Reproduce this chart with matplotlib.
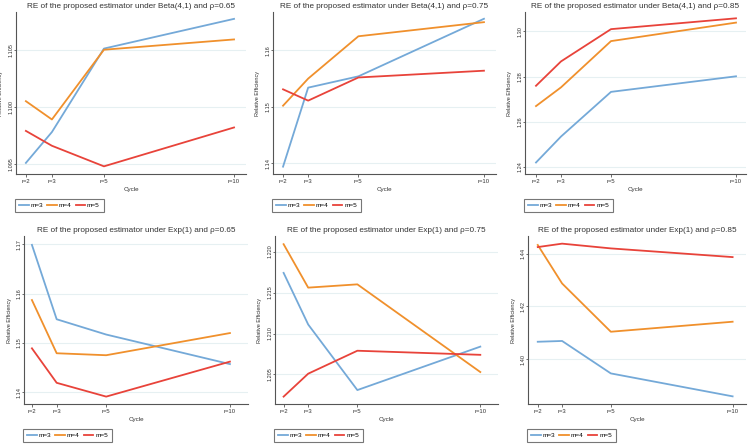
import matplotlib
matplotlib.use('Agg')
from matplotlib import pyplot as plt

plt.rcParams['font.family'] = ['Liberation Sans', 'DejaVu Sans']

r = [2, 3, 5, 10]
r_labels = ['r=2', 'r=3', 'r=5', 'r=10']
series = ['m=3', 'm=4', 'm=5']
colors = ['#74a9d8', '#f0902c', '#e8433a']

# Beta(4,1)
beta65_m3 = [1.0951, 1.0978, 1.1051, 1.1077]
beta65_m4 = [1.1005, 1.0989, 1.1050, 1.1059]
beta65_m5 = [1.0979, 1.0966, 1.0948, 1.0982]

beta75_m3 = [1.1394, 1.1534, 1.1554, 1.1656]
beta75_m4 = [1.1502, 1.1550, 1.1625, 1.1650]
beta75_m5 = [1.1531, 1.1511, 1.1552, 1.1564]

beta85_m3 = [1.2419, 1.2534, 1.2732, 1.2801]
beta85_m4 = [1.2669, 1.2752, 1.2957, 1.3039]
beta85_m5 = [1.2759, 1.2867, 1.3010, 1.3058]

# Exp(1)
exp65_m3 = [1.1699, 1.1548, 1.1517, 1.1457]
exp65_m4 = [1.1587, 1.1479, 1.1475, 1.1520]
exp65_m5 = [1.1489, 1.1419, 1.1391, 1.1462]

exp75_m3 = [1.2174, 1.2111, 1.2031, 1.2084]
exp75_m4 = [1.2209, 1.2156, 1.2160, 1.2053]
exp75_m5 = [1.2023, 1.2051, 1.2079, 1.2074]

exp85_m3 = [1.4066, 1.4069, 1.3946, 1.3859]
exp85_m4 = [1.4433, 1.4287, 1.4104, 1.4142]
exp85_m5 = [1.4425, 1.4438, 1.4420, 1.4387]

panels = [
    ('RE of the proposed estimator under Beta(4,1) and ρ=0.65',
     [beta65_m3, beta65_m4, beta65_m5], [1.095, 1.100, 1.105], '%.3f', (1.09413, 1.1083)),
    ('RE of the proposed estimator under Beta(4,1) and ρ=0.75',
     [beta75_m3, beta75_m4, beta75_m5], [1.14, 1.15, 1.16], '%.2f', (1.1381, 1.1668)),
    ('RE of the proposed estimator under Beta(4,1) and ρ=0.85',
     [beta85_m3, beta85_m4, beta85_m5], [1.24, 1.26, 1.28, 1.30], '%.2f', (1.2368, 1.3086)),
    ('RE of the proposed estimator under Exp(1) and ρ=0.65',
     [exp65_m3, exp65_m4, exp65_m5], [1.14, 1.15, 1.16, 1.17], '%.2f', (1.1376, 1.1717)),
    ('RE of the proposed estimator under Exp(1) and ρ=0.75',
     [exp75_m3, exp75_m4, exp75_m5], [1.205, 1.210, 1.215, 1.220], '%.3f', (1.2014, 1.2219)),
    ('RE of the proposed estimator under Exp(1) and ρ=0.85',
     [exp85_m3, exp85_m4, exp85_m5], [1.40, 1.42, 1.44], '%.2f', (1.3830, 1.4467)),
]

W, H = 748, 448
fig = plt.figure(figsize=(W / 100, H / 100), dpi=100)

# axes boxes in pixels: left, right, top, bottom
boxes = [(16, 246, 12, 174), (273, 496, 12, 174), (525, 746, 12, 174),
         (24, 248, 236, 404), (275, 498, 236, 404), (528, 746, 236, 404)]
xlims = [(1.62, 10.46), (1.60, 10.48), (1.56, 10.40),
         (1.68, 10.73), (1.65, 10.72), (1.60, 10.55)]

for i, (title, data, yticks, fmt, ylim) in enumerate(panels):
    l, rr, t, b = boxes[i]
    wid, hgt = rr - l, b - t
    ax = fig.add_axes([l / W, 1 - b / H, wid / W, hgt / H])
    for vals, name, c in zip(data, series, colors):
        ax.plot(r, vals, color=c, lw=1.3, label=name)
    ax.set_xlim(*xlims[i])
    ax.set_ylim(*ylim)
    ax.set_xticks(r)
    ax.set_xticklabels(r_labels, fontsize=4.2)
    ax.set_yticks(yticks)
    ax.set_yticklabels([fmt % v for v in yticks], fontsize=4.0, rotation=90, va='center')
    ax.grid(axis='y', color='#e6f0f2', lw=0.8)
    ax.set_axisbelow(True)
    for s in ['top', 'right']:
        ax.spines[s].set_visible(False)
    for s in ['left', 'bottom']:
        ax.spines[s].set_color('#555555')
        ax.spines[s].set_linewidth(0.8)
    ax.tick_params(axis='x', length=2.5, width=0.6, color='#555555', pad=1, labelcolor='#333333')
    ax.tick_params(axis='y', length=1.2, width=0.6, color='#555555', pad=0.6, labelcolor='#333333')
    ax.set_xlabel('Cycle', fontsize=4.5, labelpad=2.5, color='#333333')
    ax.set_ylabel('Relative Efficiency', fontsize=4.0, color='#333333')
    ax.yaxis.set_label_coords(-12.5 / wid, 0.5)
    ax.set_title(title, fontsize=5.85, pad=3, color='#333333')
    leg = ax.legend(loc='upper left', bbox_to_anchor=(-0.003, -24.5 / hgt), ncol=3, fontsize=4.6,
                    frameon=True, fancybox=False, edgecolor='#555555', handlelength=1.45,
                    columnspacing=0.6, handletextpad=0.35, borderpad=0.65, borderaxespad=0)
    leg.get_frame().set_linewidth(0.8)

fig.savefig('out.png', dpi=100, facecolor='white')
